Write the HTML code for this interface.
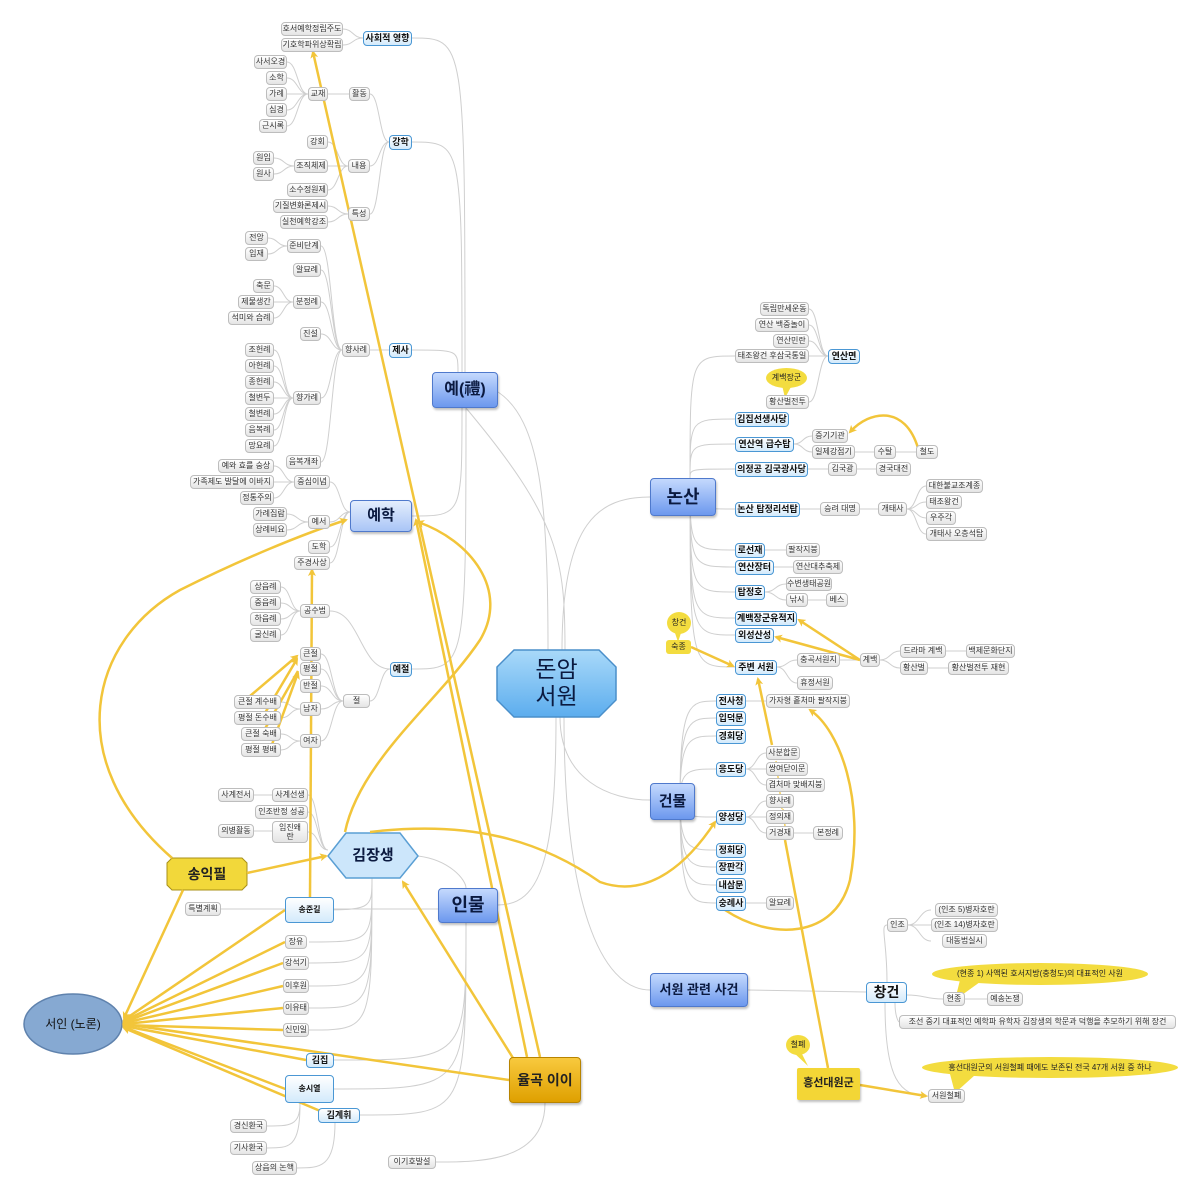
<!DOCTYPE html>
<html><head><meta charset="utf-8">
<style>
body{margin:0;background:#fff;}
#w{position:relative;width:1200px;height:1197px;overflow:hidden;font-family:"Liberation Sans","Noto Sans CJK KR",sans-serif;}
svg{position:absolute;left:0;top:0;}
.g,.b,.m{position:absolute;box-sizing:border-box;text-align:center;white-space:nowrap;color:#333;}
.g{height:14px;line-height:12px;font-size:8px;border:1px solid #bdbdbd;border-radius:4px;background:linear-gradient(#fff,#e4e4e4);}
.b{height:15px;line-height:12px;font-size:9px;font-weight:bold;color:#111;border:1.5px solid #4a97d4;border-radius:4px;background:linear-gradient(#fff,#d3eafb);}
.m{border:1px solid #4f79cc;border-radius:4px;background:linear-gradient(#c4d9fd,#6c98ee);color:#0b1a40;font-weight:bold;font-size:18px;box-shadow:1px 2px 2px rgba(0,0,0,.25);}
.y{position:absolute;background:#f3dc3f;border-radius:50%;text-align:center;font-size:8px;color:#222;}
</style></head><body><div id="w">
<svg id="s" width="1200" height="1197">
<defs><marker id="a" markerWidth="8" markerHeight="8" refX="6" refY="4" orient="auto" markerUnits="userSpaceOnUse"><path d="M0,0 L8,4 L0,8 L2,4z" fill="#f2c53a"/></marker>
<linearGradient id="cg" x1="0" y1="0" x2="0" y2="1"><stop offset="0" stop-color="#a9d9f9"/><stop offset="1" stop-color="#5cadee"/></linearGradient></defs>
<g id="gl" fill="none" stroke="#cfcfcf" stroke-width="1"></g>
<!-- bubble tails -->
<g fill="#f3dc3f">
<polygon points="782,385 792,385 785,398"/>
<polygon points="674,630 682,630 678,642"/>
<polygon points="793,1052 801,1052 808,1066"/>
<polygon points="960,980 980,982 955,1000"/>
<polygon points="950,1074 975,1075 955,1093"/>
</g>
<!-- shapes -->
<polygon points="497,667 514,650 599,650 616,667 616,700 599,717 514,717 497,700" fill="url(#cg)" stroke="#4a8fca" stroke-width="1.5"/>
<polygon points="328,856 346,833 400,833 418,856 400,878 346,878" fill="#cce6fb" stroke="#5a9fd4" stroke-width="1.5"/>
<polygon points="172,858 242,858 247,863 247,885 242,890 172,890 167,885 167,863" fill="#f2d83a" stroke="#a89018" stroke-width="1"/>
<ellipse cx="73" cy="1024" rx="49" ry="30" fill="#86a9d2" stroke="#5f82ad" stroke-width="1.5"/>
<g fill="none" stroke="#f2c53a" stroke-width="2.5">
<path d="M540,1057 L313,52" marker-end="url(#a)"/>
<path d="M527,1057 L416,520" marker-end="url(#a)"/>
<path d="M513,1058 L403,882" marker-end="url(#a)"/>
<path d="M509,1080 L124,1024" marker-end="url(#a)"/>
<path d="M247,873 L326,856" marker-end="url(#a)"/>
<path d="M183,890 L124,1018" marker-end="url(#a)"/>
<path d="M172,858 C60,760 90,640 180,590 C240,560 300,535 346,520" marker-end="url(#a)"/>
<path d="M310,897 L312,570" marker-end="url(#a)"/>
<path d="M285,910 L124,1020" marker-end="url(#a)"/>
<path d="M285,942 L124,1021" marker-end="url(#a)"/>
<path d="M283,963 L124,1022" marker-end="url(#a)"/>
<path d="M283,986 L124,1023" marker-end="url(#a)"/>
<path d="M283,1008 L124,1024" marker-end="url(#a)"/>
<path d="M283,1030 L124,1025" marker-end="url(#a)"/>
<path d="M306,1060 L124,1026" marker-end="url(#a)"/>
<path d="M288,1090 L124,1027" marker-end="url(#a)"/>
<path d="M325,1113 L124,1028" marker-end="url(#a)"/>
<path d="M243,702 L297,656" marker-end="url(#a)"/>
<path d="M262,718 L297,659" marker-end="url(#a)"/>
<path d="M262,734 L298,671"/>
<path d="M270,750 L298,673" marker-end="url(#a)"/>
<path d="M345,832 C360,760 440,700 480,640 C510,590 470,540 418,522" marker-end="url(#a)"/>
<path d="M370,832 C470,820 540,840 600,882 C650,900 690,860 715,822" marker-end="url(#a)"/>
<path d="M691,647 L733,666" marker-end="url(#a)"/>
<path d="M860,660 L799,620" marker-end="url(#a)"/>
<path d="M860,660 L776,637" marker-end="url(#a)"/>
<path d="M918,448 C905,405 870,410 850,432" marker-end="url(#a)"/>
<path d="M860,1085 L926,1096" marker-end="url(#a)"/>
<path d="M828,1068 L785,840"/>
<path d="M772,745 L758,679" marker-end="url(#a)"/>
<path d="M725,910 C770,940 835,940 850,880 C865,800 840,730 810,710" marker-end="url(#a)"/>
</g>
<g fill="none" stroke="#f2c53a" stroke-width="1.2">
<path d="M785,826 L783,809 M782,809 L780,793 M780,793 L778,777 M778,777 L776,761"/>
</g>
</svg>

<!-- main topics -->
<div class="m" style="left:432px;top:372px;width:66px;height:36px;line-height:34px;font-size:16px">예(禮)</div>
<div class="m" style="left:350px;top:500px;width:62px;height:32px;line-height:30px;font-size:15px;background:linear-gradient(#e4eefd,#a9c5f6)">예학</div>
<div class="m" style="left:650px;top:478px;width:66px;height:38px;line-height:36px">논산</div>
<div class="m" style="left:650px;top:783px;width:45px;height:37px;line-height:35px;font-size:15px">건물</div>
<div class="m" style="left:438px;top:888px;width:60px;height:35px;line-height:33px">인물</div>
<div class="m" style="left:650px;top:973px;width:98px;height:34px;line-height:32px;font-size:13px">서원 관련 사건</div>
<div class="m" style="left:497px;top:650px;width:119px;height:67px;border:none;background:none;box-shadow:none;font-size:23px;font-weight:normal;line-height:27px;padding-top:6px">돈암<br>서원</div>
<div class="m" style="left:328px;top:833px;width:90px;height:45px;border:none;background:none;box-shadow:none;font-size:15px;line-height:45px">김장생</div>
<div class="m" style="left:167px;top:858px;width:80px;height:32px;border:none;background:none;box-shadow:none;font-size:14px;line-height:32px;color:#222">송익필</div>
<div class="m" style="left:509px;top:1057px;width:72px;height:46px;line-height:44px;font-size:14px;border-color:#b88400;background:linear-gradient(#f8c93e,#dfa000);color:#222">율곡 이이</div>
<div class="m" style="left:24px;top:1010px;width:98px;height:28px;border:none;background:none;box-shadow:none;font-size:12px;font-weight:normal;line-height:28px;color:#111">서인 (노론)</div>
<div class="m" style="left:797px;top:1068px;width:63px;height:32px;line-height:30px;font-size:11px;border:none;border-radius:2px;background:#f3d636;color:#222">흥선대원군</div>
<div class="b" style="left:866px;top:982px;width:41px;height:21px;line-height:18px;font-size:14px">창건</div>

<!-- yellow bubbles -->
<div class="y" style="left:766px;top:368px;width:41px;height:20px;line-height:20px">계백장군</div>
<div class="y" style="left:667px;top:612px;width:24px;height:22px;line-height:22px">창건</div>
<div class="y" style="left:666px;top:640px;width:25px;height:14px;line-height:14px;border-radius:3px">숙종</div>
<div class="y" style="left:786px;top:1035px;width:24px;height:20px;line-height:20px">철폐</div>
<div class="y" style="left:932px;top:963px;width:216px;height:22px;line-height:22px">(현종 1) 사액된 호서지방(충청도)의 대표적인 사원</div>
<div class="y" style="left:922px;top:1057px;width:256px;height:21px;line-height:21px">홍선대원군의 서원철폐 때에도 보존된 전국 47개 서원 중 하나</div>

<!-- gray nodes -->
<div class="g" style="left:281px;top:22px;width:62px">호서예학정립주도</div>
<div class="g" style="left:281px;top:38px;width:62px">기호학파위상확립</div>
<div class="g" style="left:254px;top:55px;width:33px">사서오경</div>
<div class="g" style="left:266px;top:71px;width:21px">소학</div>
<div class="g" style="left:266px;top:87px;width:21px">가례</div>
<div class="g" style="left:266px;top:103px;width:21px">심경</div>
<div class="g" style="left:259px;top:119px;width:28px">근시록</div>
<div class="g" style="left:308px;top:87px;width:20px">교재</div>
<div class="g" style="left:349px;top:87px;width:21px">활동</div>
<div class="g" style="left:307px;top:135px;width:21px">강회</div>
<div class="g" style="left:253px;top:151px;width:21px">원임</div>
<div class="g" style="left:253px;top:167px;width:21px">원사</div>
<div class="g" style="left:294px;top:159px;width:34px">조직체제</div>
<div class="g" style="left:348px;top:159px;width:22px">내용</div>
<div class="g" style="left:287px;top:183px;width:41px">소수정원제</div>
<div class="g" style="left:273px;top:199px;width:55px">기질변화론제시</div>
<div class="g" style="left:280px;top:215px;width:48px">실천예학강조</div>
<div class="g" style="left:348px;top:207px;width:22px">특성</div>
<div class="g" style="left:245px;top:231px;width:23px">전앙</div>
<div class="g" style="left:245px;top:247px;width:23px">입재</div>
<div class="g" style="left:287px;top:239px;width:34px">준비단계</div>
<div class="g" style="left:293px;top:263px;width:28px">알묘례</div>
<div class="g" style="left:253px;top:279px;width:21px">축문</div>
<div class="g" style="left:238px;top:295px;width:36px">제물생간</div>
<div class="g" style="left:228px;top:311px;width:46px">석미와 습례</div>
<div class="g" style="left:293px;top:295px;width:28px">분정례</div>
<div class="g" style="left:300px;top:327px;width:21px">진설</div>
<div class="g" style="left:342px;top:343px;width:28px">향사례</div>
<div class="g" style="left:245px;top:343px;width:29px">조헌례</div>
<div class="g" style="left:245px;top:359px;width:29px">아헌례</div>
<div class="g" style="left:245px;top:375px;width:29px">종헌례</div>
<div class="g" style="left:245px;top:391px;width:29px">철변두</div>
<div class="g" style="left:245px;top:407px;width:29px">철변례</div>
<div class="g" style="left:245px;top:423px;width:29px">음복례</div>
<div class="g" style="left:245px;top:439px;width:29px">망요례</div>
<div class="g" style="left:293px;top:391px;width:28px">향가례</div>
<div class="g" style="left:286px;top:455px;width:35px">음복개좌</div>
<div class="g" style="left:218px;top:459px;width:56px">예와 효를 숭상</div>
<div class="g" style="left:190px;top:475px;width:84px">가족제도 발달에 이바지</div>
<div class="g" style="left:294px;top:475px;width:36px">중심이념</div>
<div class="g" style="left:240px;top:491px;width:34px">정통주의</div>
<div class="g" style="left:253px;top:507px;width:34px">가례집람</div>
<div class="g" style="left:253px;top:523px;width:34px">상례비요</div>
<div class="g" style="left:308px;top:515px;width:22px">예서</div>
<div class="g" style="left:308px;top:540px;width:22px">도학</div>
<div class="g" style="left:294px;top:556px;width:36px">주경사상</div>
<div class="g" style="left:250px;top:580px;width:31px">상읍례</div>
<div class="g" style="left:250px;top:596px;width:31px">중읍례</div>
<div class="g" style="left:250px;top:612px;width:31px">하읍례</div>
<div class="g" style="left:250px;top:628px;width:31px">굴신례</div>
<div class="g" style="left:300px;top:604px;width:30px">공수법</div>
<div class="g" style="left:300px;top:647px;width:21px">큰절</div>
<div class="g" style="left:300px;top:662px;width:21px">평절</div>
<div class="g" style="left:300px;top:679px;width:21px">반절</div>
<div class="g" style="left:300px;top:702px;width:21px">남자</div>
<div class="g" style="left:300px;top:734px;width:21px">여자</div>
<div class="g" style="left:343px;top:694px;width:27px">절</div>
<div class="g" style="left:234px;top:695px;width:47px">큰절 계수배</div>
<div class="g" style="left:234px;top:711px;width:47px">평절 돈수배</div>
<div class="g" style="left:241px;top:727px;width:40px">큰절 숙배</div>
<div class="g" style="left:241px;top:743px;width:40px">평절 평배</div>
<div class="g" style="left:218px;top:788px;width:36px">사계전서</div>
<div class="g" style="left:272px;top:788px;width:36px">사계선생</div>
<div class="g" style="left:255px;top:805px;width:53px">인조반정 성공</div>
<div class="g" style="left:218px;top:824px;width:36px">의병활동</div>
<div class="g" style="left:272px;top:821px;width:36px;height:22px;line-height:9px;padding-top:1px">임진왜<br>란</div>
<div class="g" style="left:185px;top:902px;width:36px">특별계획</div>
<div class="g" style="left:285px;top:935px;width:22px">장유</div>
<div class="g" style="left:283px;top:956px;width:26px">강석기</div>
<div class="g" style="left:283px;top:979px;width:26px">이후원</div>
<div class="g" style="left:283px;top:1001px;width:26px">이유태</div>
<div class="g" style="left:283px;top:1023px;width:26px">신민일</div>
<div class="g" style="left:230px;top:1119px;width:37px">경신환국</div>
<div class="g" style="left:230px;top:1141px;width:37px">기사환국</div>
<div class="g" style="left:252px;top:1161px;width:45px">상읍의 논핵</div>
<div class="g" style="left:388px;top:1155px;width:48px">이기호발설</div>
<div class="g" style="left:760px;top:302px;width:49px">독립만세운동</div>
<div class="g" style="left:755px;top:318px;width:54px">연산 백중놀이</div>
<div class="g" style="left:773px;top:334px;width:36px">연산민란</div>
<div class="g" style="left:735px;top:349px;width:74px">태조왕건 후삼국통일</div>
<div class="g" style="left:766px;top:395px;width:43px">황산벌전투</div>
<div class="g" style="left:812px;top:429px;width:36px">증기기관</div>
<div class="g" style="left:812px;top:445px;width:43px">일제강점기</div>
<div class="g" style="left:874px;top:445px;width:22px">수탈</div>
<div class="g" style="left:916px;top:445px;width:22px">철도</div>
<div class="g" style="left:828px;top:462px;width:29px">김국광</div>
<div class="g" style="left:876px;top:462px;width:35px">경국대전</div>
<div class="g" style="left:820px;top:502px;width:40px">승려 대명</div>
<div class="g" style="left:878px;top:502px;width:29px">개태사</div>
<div class="g" style="left:926px;top:479px;width:57px">대한불교조계종</div>
<div class="g" style="left:926px;top:495px;width:36px">태조왕건</div>
<div class="g" style="left:926px;top:511px;width:30px">우주각</div>
<div class="g" style="left:926px;top:527px;width:61px">개태사 오층석탑</div>
<div class="g" style="left:786px;top:543px;width:34px">팔작지붕</div>
<div class="g" style="left:793px;top:560px;width:50px">연산대추축제</div>
<div class="g" style="left:786px;top:577px;width:46px">수변생태공원</div>
<div class="g" style="left:786px;top:593px;width:22px">낚시</div>
<div class="g" style="left:826px;top:593px;width:22px">베스</div>
<div class="g" style="left:797px;top:653px;width:43px">충곡서원지</div>
<div class="g" style="left:797px;top:676px;width:36px">휴정서원</div>
<div class="g" style="left:860px;top:653px;width:20px">계백</div>
<div class="g" style="left:900px;top:644px;width:46px">드라마 계백</div>
<div class="g" style="left:966px;top:644px;width:49px">백제문화단지</div>
<div class="g" style="left:900px;top:661px;width:28px">황산벌</div>
<div class="g" style="left:948px;top:661px;width:61px">황산벌전투 재현</div>
<div class="g" style="left:766px;top:694px;width:84px">가자형 홑처마 팔작지붕</div>
<div class="g" style="left:766px;top:746px;width:34px">사분합문</div>
<div class="g" style="left:766px;top:762px;width:42px">쌍여닫이문</div>
<div class="g" style="left:766px;top:778px;width:59px">겹처마 맞배지붕</div>
<div class="g" style="left:766px;top:794px;width:28px">향사례</div>
<div class="g" style="left:766px;top:810px;width:28px">정의재</div>
<div class="g" style="left:766px;top:826px;width:28px">거경재</div>
<div class="g" style="left:813px;top:826px;width:30px">본정례</div>
<div class="g" style="left:766px;top:896px;width:28px">알묘례</div>
<div class="g" style="left:887px;top:918px;width:21px">인조</div>
<div class="g" style="left:935px;top:903px;width:63px">(인조 5)병자호란</div>
<div class="g" style="left:931px;top:918px;width:67px">(인조 14)병자호란</div>
<div class="g" style="left:942px;top:934px;width:45px">대동법실시</div>
<div class="g" style="left:943px;top:992px;width:22px">현종</div>
<div class="g" style="left:987px;top:992px;width:36px">예송논쟁</div>
<div class="g" style="left:899px;top:1015px;width:277px">조선 중기 대표적인 예학파 유학자 김장생의 학문과 덕행을 추모하기 위해 장건</div>
<div class="g" style="left:928px;top:1089px;width:37px">서원철폐</div>

<!-- blue sub nodes -->
<div class="b" style="left:363px;top:31px;width:49px">사회적 영향</div>
<div class="b" style="left:389px;top:135px;width:23px">강학</div>
<div class="b" style="left:389px;top:343px;width:23px">제사</div>
<div class="b" style="left:390px;top:662px;width:22px">예절</div>
<div class="b" style="left:285px;top:897px;width:49px;height:26px;line-height:23px;font-size:8px">송준길</div>
<div class="b" style="left:306px;top:1053px;width:28px">김집</div>
<div class="b" style="left:285px;top:1075px;width:49px;height:28px;line-height:25px;font-size:8px">송시열</div>
<div class="b" style="left:318px;top:1108px;width:42px">김계휘</div>
<div class="b" style="left:828px;top:349px;width:32px">연산면</div>
<div class="b" style="left:735px;top:412px;width:54px">김집선생사당</div>
<div class="b" style="left:735px;top:437px;width:59px">연산역 급수탑</div>
<div class="b" style="left:735px;top:462px;width:73px">의정공 김국광사당</div>
<div class="b" style="left:735px;top:502px;width:65px">논산 탑정리석탑</div>
<div class="b" style="left:735px;top:543px;width:30px">로선재</div>
<div class="b" style="left:735px;top:560px;width:39px">연산장터</div>
<div class="b" style="left:735px;top:585px;width:30px">탑정호</div>
<div class="b" style="left:735px;top:611px;width:62px">계백장군유적지</div>
<div class="b" style="left:735px;top:628px;width:39px">외성산성</div>
<div class="b" style="left:735px;top:660px;width:42px">주변 서원</div>
<div class="b" style="left:716px;top:694px;width:30px">전사청</div>
<div class="b" style="left:716px;top:711px;width:30px">입덕문</div>
<div class="b" style="left:716px;top:729px;width:30px">경회당</div>
<div class="b" style="left:716px;top:762px;width:30px">응도당</div>
<div class="b" style="left:716px;top:810px;width:30px">양성당</div>
<div class="b" style="left:716px;top:843px;width:30px">정회당</div>
<div class="b" style="left:716px;top:860px;width:30px">장판각</div>
<div class="b" style="left:716px;top:878px;width:30px">내삼문</div>
<div class="b" style="left:716px;top:896px;width:30px">숭례사</div>
</div>
<script>
var g=document.getElementById('gl'),d='';
function c(a,b,x,y){var m=(a+x)/2;d+='M'+a+','+b+' C'+m+','+b+' '+m+','+y+' '+x+','+y+' ';}
function v(a,b,x,y){d+='M'+a+','+b+' C'+a+','+y+' '+a+','+y+' '+x+','+y+' ';}
function fan(px,py,cx,ys){ys.forEach(function(y){c(px,py,cx,y);});}
function rfan(px,py,cx,ys){ys.forEach(function(y){c(cx,y,px,py);});}
rfan(363,38,343,[29,45]);
rfan(308,94,287,[62,78,94,110,126]);c(328,94,349,94);
rfan(389,142,370,[94,166,214]);
rfan(348,166,328,[142,166,190]);rfan(294,166,274,[158,174]);
rfan(348,214,328,[206,222]);rfan(287,246,268,[238,254]);
rfan(342,350,321,[246,270,302,334,398,462]);
rfan(293,302,274,[286,302,318]);
rfan(293,398,274,[350,366,382,398,414,430,446]);c(370,350,389,350);
rfan(294,482,274,[466,482,498]);
rfan(350,512,330,[482,522,547,563]);rfan(308,522,287,[514,530]);
rfan(300,611,281,[587,603,619,635]);
rfan(390,669,330,[611]);c(370,701,390,669);
rfan(343,701,321,[654,669,686,709,741]);
rfan(300,709,281,[702,718]);rfan(300,741,281,[734,750]);
v(465,372,412,38);v(462,372,412,142);v(458,372,412,350);
v(462,408,412,516);v(466,408,412,669);
rfan(328,850,308,[795,812,832]);c(254,795,272,795);c(254,831,272,831);
[910,942,963,986,1008,1030].forEach(function(y){d+='M372,878 C372,'+y+' 372,'+y+' 309,'+y+' ';});
c(221,909,285,909);d+='M334,909 L438,909 ';
[1060,1089,1115].forEach(function(y,i){var x=[334,334,360][i];d+='M466,923 C466,'+y+' 466,'+y+' '+x+','+y+' ';});
d+='M418,856 C450,860 466,880 466,888 ';
d+='M300,1103 C300,1126 290,1126 267,1126 M300,1103 C300,1148 290,1148 267,1148 M335,1122 C335,1168 320,1168 297,1168 ';
d+='M545,1103 C545,1162 480,1162 436,1162 ';
d+='M548,650 C548,500 540,420 498,392 M562,650 C562,520 600,497 650,497 ';
d+='M556,717 C556,860 540,905 498,905 M560,717 C560,780 610,800 650,800 M564,717 C564,900 600,990 650,990 ';
d+='M565,650 C565,560 560,520 466,408 ';
rfan(828,356,809,[309,325,341,356,402]);
[356,419,444,469,509,550,567,592,618,635,667].forEach(function(y){d+='M690,478 C690,'+y+' 690,'+y+' 735,'+y+' ';});
fan(794,444,812,[436,452]);c(855,452,874,452);c(896,452,916,452);
c(808,469,828,469);c(857,469,876,469);
c(800,509,820,509);c(860,509,878,509);fan(907,509,926,[486,502,518,534]);
c(765,550,786,550);c(774,567,793,567);fan(765,592,786,[584,600]);c(808,600,826,600);
fan(777,667,797,[660,683]);c(840,660,860,660);fan(880,660,900,[651,668]);c(946,651,966,651);c(928,668,948,668);
[701,718,736,769,817,850,867,885,903].forEach(function(y){d+='M680,800 C680,'+y+' 690,'+y+' 716,'+y+' ';});
c(746,701,766,701);fan(746,769,766,[753,769,785]);fan(746,817,766,[801,817,833]);c(794,833,813,833);c(746,903,766,903);
d+='M748,990 L866,992 ';
d+='M887,982 C887,940 880,925 887,925 ';fan(908,925,931,[910,925,941]);
c(907,995,943,999);c(965,999,987,999);d+='M895,1003 C895,1018 899,1022 899,1022 M885,1003 C885,1080 900,1096 928,1096 ';
var p=document.createElementNS('http://www.w3.org/2000/svg','path');p.setAttribute('d',d);g.appendChild(p);
</script>
</body></html>
